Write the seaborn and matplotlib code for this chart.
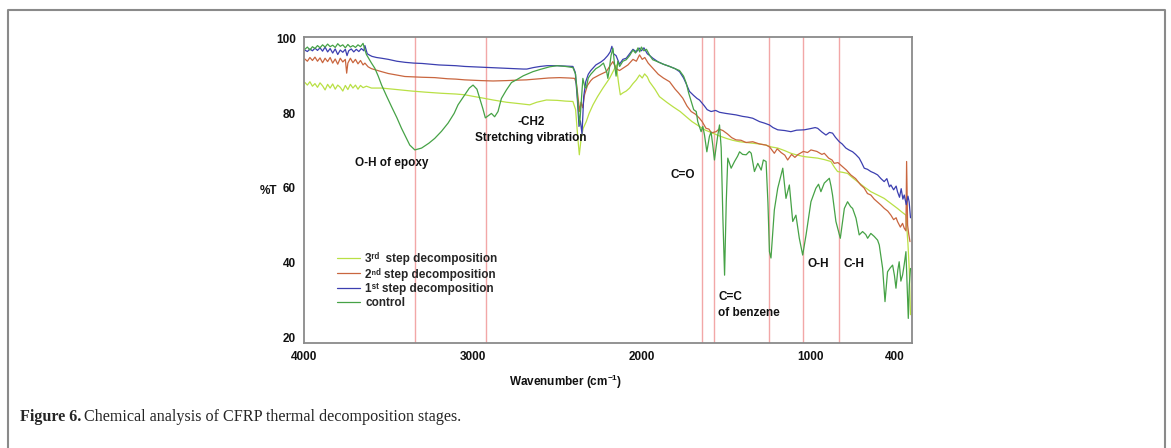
import matplotlib
matplotlib.use("Agg")
import matplotlib.pyplot as plt
from matplotlib.lines import Line2D
import pandas as pd
import seaborn as sns

# ---- data: (wavenumber cm-1, %T) ----
control = [
    (3995, 97.2), (3980, 97.8), (3965, 97.0), (3950, 97.9), (3935, 97.4), (3920, 98.2), (3905, 97.6),
    (3890, 98.4), (3875, 97.8), (3860, 98.6), (3845, 97.9), (3830, 98.3), (3815, 97.7), (3800, 98.7),
    (3785, 98.0), (3770, 98.4), (3755, 97.6), (3740, 98.5), (3725, 97.8), (3710, 98.2), (3695, 97.7),
    (3680, 98.4), (3665, 97.9), (3650, 98.8), (3640, 97.2), (3630, 95.8), (3600, 93.5), (3580, 92.1),
    (3560, 90.0), (3540, 87.6), (3510, 84.6), (3481, 81.8), (3450, 78.9), (3422, 76.0), (3395, 73.5),
    (3373, 71.5), (3343, 70.2), (3320, 70.5), (3303, 70.7), (3260, 72.0), (3225, 73.3), (3185, 75.2),
    (3146, 77.4), (3110, 80.0), (3087, 82.3), (3047, 85.0), (3020, 86.8), (2998, 87.6), (2975, 86.5),
    (2955, 83.5), (2940, 81.3), (2925, 78.8), (2910, 79.3), (2889, 80.0), (2870, 79.1), (2850, 80.5),
    (2830, 84.0), (2800, 86.3), (2770, 88.3), (2741, 89.0), (2700, 90.1), (2643, 91.2), (2600, 91.8),
    (2544, 92.5), (2500, 92.8), (2450, 92.6), (2406, 92.3), (2390, 90.5), (2375, 82.0), (2366, 76.9),
    (2355, 84.0), (2347, 89.4), (2335, 87.0), (2327, 86.8), (2315, 89.5), (2300, 90.5), (2270, 92.0),
    (2248, 92.6), (2225, 93.5), (2205, 91.0), (2199, 89.4), (2190, 92.0), (2180, 95.5), (2169, 97.5),
    (2160, 93.5), (2150, 90.0), (2140, 94.0), (2129, 92.6), (2110, 94.0), (2090, 94.4), (2070, 95.5),
    (2050, 97.0), (2035, 96.2), (2020, 97.6), (2010, 96.5), (2000, 97.8), (1985, 96.8), (1970, 97.2),
    (1950, 95.5), (1933, 94.4), (1900, 93.8), (1870, 93.2), (1833, 92.6), (1800, 92.0), (1774, 91.5),
    (1750, 90.0), (1734, 88.1), (1720, 85.5), (1705, 83.2), (1690, 81.0), (1675, 80.5), (1666, 77.8),
    (1646, 75.1), (1636, 76.5), (1626, 74.2), (1612, 69.7), (1597, 73.8), (1587, 75.0), (1577, 71.5),
    (1567, 67.5), (1557, 71.0), (1547, 74.2), (1537, 76.9), (1527, 70.7), (1517, 51.9), (1507, 36.6),
    (1497, 56.3), (1488, 68.0), (1468, 65.3), (1448, 67.1), (1430, 68.5), (1418, 69.7), (1400, 69.0),
    (1379, 68.9), (1360, 69.8), (1349, 69.3), (1330, 64.4), (1310, 66.6), (1290, 64.8), (1277, 67.5),
    (1261, 67.1), (1250, 56.0), (1241, 42.9), (1232, 41.2), (1212, 54.1), (1192, 59.9), (1162, 65.3),
    (1143, 57.2), (1123, 60.8), (1103, 51.0), (1084, 52.7), (1064, 46.5), (1044, 42.0), (1024, 47.4),
    (995, 56.3), (966, 59.9), (950, 61.0), (936, 59.0), (916, 61.3), (886, 62.6), (876, 60.5),
    (867, 58.1), (847, 51.0), (821, 46.5), (797, 54.5), (778, 56.3), (760, 55.0), (748, 54.5),
    (728, 51.9), (709, 47.4), (689, 48.3), (670, 47.5), (659, 46.5), (640, 47.8), (620, 47.0),
    (600, 46.0), (590, 44.7), (570, 38.4), (556, 29.5), (541, 37.5), (526, 38.5), (511, 39.3),
    (500, 36.5), (491, 33.1), (480, 38.0), (472, 40.2), (462, 35.0), (452, 36.6), (442, 39.5),
    (432, 42.9), (425, 34.0), (418, 25.0), (412, 34.0), (405, 38.4),
]

step1 = [
    (3995, 97.0), (3980, 96.6), (3965, 97.3), (3950, 96.8), (3935, 97.5), (3920, 96.9), (3905, 97.6),
    (3890, 96.7), (3875, 97.8), (3860, 96.5), (3845, 97.4), (3830, 96.2), (3815, 97.3), (3800, 95.8),
    (3785, 97.0), (3770, 96.4), (3755, 97.2), (3745, 95.5), (3735, 96.8), (3720, 97.3), (3705, 96.5),
    (3690, 97.2), (3675, 96.6), (3660, 97.4), (3645, 96.8), (3639, 98.2), (3625, 96.0), (3610, 95.6),
    (3597, 95.3), (3570, 95.0), (3540, 94.8), (3500, 94.5), (3450, 94.0), (3400, 93.7), (3350, 93.5),
    (3300, 93.4), (3250, 93.2), (3200, 93.0), (3150, 92.9), (3100, 92.8), (3047, 92.6), (3000, 92.5),
    (2950, 92.4), (2900, 92.3), (2850, 92.2), (2800, 92.1), (2750, 92.0), (2700, 91.9), (2679, 91.9),
    (2640, 92.3), (2600, 92.6), (2560, 92.8), (2500, 92.8), (2450, 92.7), (2406, 92.6), (2392, 91.0),
    (2380, 84.0), (2370, 76.5), (2362, 78.0), (2352, 74.5), (2342, 84.5), (2330, 88.5), (2315, 90.5),
    (2300, 91.5), (2270, 93.0), (2240, 93.8), (2220, 94.5), (2200, 95.5), (2185, 96.5), (2175, 98.0),
    (2165, 96.0), (2150, 95.5), (2130, 93.2), (2110, 94.5), (2090, 94.8), (2070, 96.0), (2050, 97.2),
    (2030, 96.5), (2011, 97.5), (2000, 96.8), (1985, 97.6), (1965, 96.0), (1950, 95.5), (1932, 94.8),
    (1900, 93.8), (1870, 93.2), (1833, 92.6), (1800, 92.0), (1774, 91.2), (1750, 89.5), (1735, 88.0),
    (1715, 85.9), (1690, 84.8), (1670, 84.0), (1656, 83.6), (1630, 82.2), (1610, 81.0), (1587, 80.5),
    (1560, 80.8), (1537, 80.3), (1500, 80.0), (1470, 79.8), (1439, 79.6), (1400, 79.2), (1370, 79.0),
    (1340, 78.7), (1300, 77.8), (1271, 77.4), (1241, 76.9), (1220, 76.2), (1192, 75.6), (1150, 75.4),
    (1114, 75.1), (1080, 75.5), (1034, 75.6), (1000, 75.9), (970, 76.2), (955, 76.0), (930, 75.0),
    (906, 74.2), (885, 74.9), (867, 74.7), (850, 73.6), (827, 72.4), (810, 71.8), (788, 70.7),
    (770, 70.2), (748, 69.7), (730, 69.0), (709, 68.0), (695, 66.8), (679, 65.3), (660, 65.0),
    (640, 64.4), (620, 64.0), (600, 63.5), (580, 62.5), (561, 61.7), (545, 62.5), (530, 60.3),
    (521, 60.8), (505, 59.5), (490, 60.5), (482, 59.0), (470, 57.5), (460, 59.8), (450, 57.0),
    (442, 58.1), (430, 55.5), (420, 57.8), (413, 56.3), (405, 52.0),
]

step2 = [
    (3995, 94.6), (3980, 94.0), (3965, 95.0), (3950, 94.2), (3935, 95.1), (3920, 94.0), (3905, 94.9),
    (3890, 93.6), (3875, 94.8), (3860, 93.9), (3845, 95.0), (3830, 93.5), (3815, 94.6), (3800, 93.2),
    (3785, 94.8), (3770, 93.8), (3755, 94.5), (3747, 90.8), (3740, 93.5), (3725, 94.8), (3710, 93.6),
    (3695, 94.5), (3680, 93.3), (3665, 94.2), (3650, 93.0), (3639, 93.5), (3620, 92.5), (3600, 92.0),
    (3570, 91.6), (3540, 91.2), (3500, 90.7), (3450, 90.3), (3402, 89.9), (3350, 89.8), (3300, 89.7),
    (3225, 89.6), (3150, 89.3), (3100, 89.2), (3047, 89.0), (3000, 88.9), (2950, 88.8), (2879, 88.7),
    (2800, 88.8), (2750, 88.9), (2682, 89.0), (2600, 89.3), (2550, 89.5), (2485, 89.6), (2430, 89.5),
    (2396, 89.4), (2385, 88.0), (2375, 84.0), (2366, 80.5), (2358, 83.0), (2348, 81.5), (2337, 85.0),
    (2320, 87.5), (2300, 88.8), (2287, 89.4), (2250, 90.3), (2208, 91.2), (2190, 92.5), (2169, 93.9),
    (2150, 92.0), (2130, 91.5), (2110, 92.1), (2080, 93.0), (2050, 94.5), (2030, 94.0), (2011, 95.7),
    (1995, 94.5), (1980, 95.0), (1960, 93.5), (1932, 92.1), (1900, 90.5), (1870, 89.5), (1833, 88.5),
    (1800, 86.5), (1780, 85.5), (1755, 84.1), (1730, 82.0), (1705, 80.5), (1680, 79.8), (1656, 78.7),
    (1640, 77.8), (1617, 76.0), (1600, 75.8), (1585, 74.8), (1557, 75.1), (1540, 75.8), (1517, 75.4),
    (1490, 74.5), (1465, 73.5), (1439, 72.9), (1410, 72.8), (1380, 72.2), (1340, 72.4), (1300, 71.8),
    (1261, 71.5), (1240, 71.0), (1212, 69.3), (1195, 70.5), (1172, 69.5), (1150, 68.8), (1133, 67.5),
    (1110, 69.0), (1090, 68.2), (1074, 68.9), (1040, 69.8), (1015, 69.5), (995, 70.2), (960, 69.8),
    (930, 69.0), (916, 69.3), (890, 68.0), (870, 67.5), (857, 66.6), (835, 66.8), (808, 65.7),
    (785, 64.8), (759, 63.5), (730, 62.5), (700, 60.8), (680, 60.0), (660, 58.5), (640, 58.1),
    (620, 57.0), (600, 56.2), (580, 55.4), (560, 54.5), (540, 53.8), (521, 52.7), (505, 51.5),
    (490, 52.0), (482, 51.0), (465, 49.5), (452, 50.5), (442, 49.2), (432, 48.5), (428, 67.1),
    (422, 50.0), (415, 47.5), (408, 45.6),
]

step3 = [
    (3995, 88.3), (3980, 87.6), (3965, 88.5), (3950, 87.3), (3935, 88.0), (3920, 87.0), (3905, 88.2),
    (3890, 87.4), (3875, 86.3), (3860, 87.8), (3845, 86.8), (3830, 87.9), (3815, 86.5), (3800, 87.6),
    (3785, 87.0), (3770, 86.0), (3755, 87.5), (3740, 86.4), (3725, 87.8), (3710, 86.8), (3695, 87.6),
    (3680, 86.5), (3665, 87.5), (3650, 86.9), (3630, 87.3), (3600, 86.8), (3540, 86.8), (3450, 86.4),
    (3362, 86.0), (3280, 85.7), (3185, 85.4), (3100, 85.2), (3047, 85.0), (3000, 84.6), (2950, 84.2),
    (2879, 83.6), (2800, 83.0), (2720, 82.6), (2662, 82.3), (2620, 83.0), (2563, 83.6), (2500, 83.5),
    (2450, 83.3), (2406, 83.2), (2390, 81.0), (2378, 74.0), (2368, 68.9), (2358, 73.0), (2345, 76.0),
    (2327, 77.8), (2310, 80.0), (2287, 82.3), (2260, 84.5), (2228, 86.8), (2210, 88.0), (2189, 89.4),
    (2165, 91.5), (2149, 93.0), (2135, 88.0), (2125, 85.0), (2110, 85.5), (2090, 86.0), (2070, 86.8),
    (2050, 88.0), (2030, 89.0), (2011, 90.3), (1995, 89.5), (1981, 90.6), (1965, 89.8), (1952, 88.5),
    (1920, 86.5), (1893, 84.5), (1850, 83.0), (1813, 81.8), (1770, 80.5), (1734, 79.1), (1700, 77.8),
    (1656, 76.5), (1620, 75.5), (1577, 74.7), (1540, 74.0), (1497, 73.3), (1460, 72.8), (1418, 72.4),
    (1380, 72.2), (1340, 72.0), (1300, 71.8), (1261, 71.5), (1230, 71.0), (1192, 70.7), (1150, 70.0),
    (1114, 69.3), (1075, 68.8), (1034, 68.4), (995, 68.2), (955, 68.0), (915, 67.6), (877, 67.1),
    (855, 65.5), (837, 64.4), (808, 64.2), (778, 63.9), (750, 62.8), (719, 61.7), (680, 60.3),
    (640, 59.0), (600, 58.1), (561, 57.2), (520, 55.8), (482, 54.5), (455, 53.5), (432, 52.7),
    (420, 45.0), (412, 38.0), (405, 26.0),
]

series_labels = ["3ʳᵈ  step decomposition", "2ⁿᵈ step decomposition",
                 "1ˢᵗ step decomposition", "control"]
series_points = [step3, step2, step1, control]
series_colors = ["#b9e045", "#c9663f", "#3c3fb0", "#46a246"]

# marked bands (pink guide lines) and their labels
band_lines = [3343, 2920, 1642, 1572, 1242, 1042, 828]
band_texts = [
    ("O-H of epoxy", 3479, 66.7, "center"),
    ("-CH2", 2656, 77.7, "center"),
    ("Stretching vibration", 2656, 73.4, "center"),
    ("C=O", 1756, 63.5, "center"),
    ("C=C", 1543, 30.7, "left"),
    ("of benzene", 1543, 26.4, "left"),
    ("O-H", 951, 39.6, "center"),
    ("C-H", 738, 39.6, "center"),
]

xticks = [4000, 3000, 2000, 1000, 500]
xtick_labels = ["4000", "3000", "2000", "1000", "400"]
yticks = [20, 40, 60, 80, 100]

rows = []
for name, pts in zip(series_labels, series_points):
    for wn, t in pts:
        rows.append({"wn": wn, "T": t, "series": name})
df = pd.DataFrame(rows)

sns.set_theme(style="white")
plt.rcParams["font.family"] = ["Liberation Sans", "DejaVu Sans"]
plt.rcParams["mathtext.fontset"] = "custom"
plt.rcParams["mathtext.rm"] = "Liberation Sans:bold"
plt.rcParams["mathtext.it"] = "Liberation Sans:bold"

W, H = 1171, 448
fig = plt.figure(figsize=(W / 100, H / 100), dpi=100)
ax = fig.add_axes([304 / W, 1 - 343 / H, 608 / W, 306 / H])

for x in band_lines:
    ax.axvline(x, color="#f2a7a7", lw=1.0, zorder=1)

sns.lineplot(data=df, x="wn", y="T", hue="series", hue_order=series_labels,
             palette=dict(zip(series_labels, series_colors)), estimator=None,
             sort=False, lw=0.9, ax=ax, zorder=2)

ax.set_xlim(4000, 396)
ax.set_ylim(18.4, 100.5)
ax.set_xticks(xticks)
ax.set_xticklabels(xtick_labels)
ax.set_xticks([3500, 2500, 1500], minor=True)
ax.set_yticks(yticks)
ax.set_yticks([30, 50, 70, 90], minor=True)
ax.tick_params(axis="both", which="both", direction="in", color="#808080",
               labelsize=8.5, pad=6)
ax.tick_params(which="major", length=3, width=0.8)
ax.tick_params(which="minor", length=2, width=0.8)
for lab in ax.get_xticklabels() + ax.get_yticklabels():
    lab.set_fontweight("bold")
    lab.set_color("#111111")
for sp in ax.spines.values():
    sp.set_color("#8a8a8a")
    sp.set_linewidth(1.3)

ax.set_xlabel("Wavenumber (cm$^{-1}$)", fontsize=8.5, fontweight="bold", color="#111111")
ax.xaxis.set_label_coords(0.43, -0.098)
ax.set_ylabel("%T", fontsize=8.5, fontweight="bold", rotation=0, color="#111111",
              ha="center", va="center")
ax.yaxis.set_label_coords(-0.059, 0.497)

for txt, x, y, ha in band_texts:
    ax.text(x, y, txt, ha=ha, va="center", fontsize=8.5, fontweight="bold", color="#111111")

handles, labels = ax.get_legend_handles_labels()
ax.legend(handles, labels, loc="upper left", bbox_to_anchor=(0.054, 0.296),
          frameon=False, borderpad=0, borderaxespad=0, labelspacing=0.18,
          handlelength=2.0, handletextpad=0.4,
          prop={"size": 8.5, "weight": "bold"})

# figure frame and caption
fig.add_artist(Line2D([8 / W, 8 / W, 1165 / W, 1165 / W], [0, 1 - 10 / H, 1 - 10 / H, 0],
                      transform=fig.transFigure, color="#8a8a8a", lw=1.5))
fig.text(20 / W, 1 - 417 / H, "Figure 6.", fontsize=11.6, fontweight="bold",
         family="Liberation Serif", va="center", ha="left")
fig.text(84 / W, 1 - 417 / H, "Chemical analysis of CFRP thermal decomposition stages.",
         fontsize=11.6, family="Liberation Serif", va="center", ha="left")

fig.savefig("out.png", dpi=100)
